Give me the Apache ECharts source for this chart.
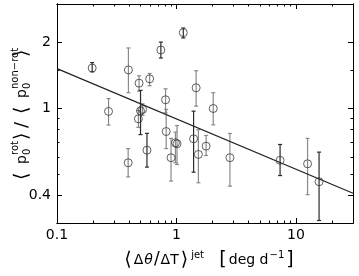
<!DOCTYPE html>
<html><head><meta charset="utf-8">
<script src="https://cdn.jsdelivr.net/npm/echarts@6/dist/echarts.min.js"></script>
<style>html,body{margin:0;padding:0;background:#fff}#c{width:359px;height:276px}</style>
</head><body><div id="c"></div>
<script>
// ---- tick values ----
const xMajorTicks = [0.1, 1, 10];
const xMinorTicks = [0.2,0.3,0.4,0.5,0.6,0.7,0.8,0.9,2,3,4,5,6,7,8,9,20,30];
const yMajorTicks = [0.4, 1, 2];
const yMinorTicks = [0.3,0.5,0.6,0.7,0.8,0.9,1.5,3];
const xTickLabels = [0.1, 1, 10];
const yTickLabels = [0.4, 1, 2];

// ---- data: points with dark error bars ----
const darkX  = [0.197, 0.74, 1.14, 0.50, 0.566, 1.39, 7.36, 15.6];
const darkY  = [1.53, 1.85, 2.22, 0.975, 0.645, 0.727, 0.58, 0.463];
const darkLo = [1.47, 1.70, 2.10, 0.76, 0.54, 0.512, 0.494, 0.308];
const darkHi = [1.62, 2.01, 2.33, 1.21, 0.77, 0.972, 0.685, 0.632];

// ---- data: points with grey error bars ----
const grayX  = [0.27, 0.396, 0.394, 0.486, 0.48, 0.52, 0.596, 0.81, 0.82, 0.90, 0.98, 1.01, 1.46, 1.525, 1.77, 2.03, 2.80, 12.5];
const grayY  = [0.97, 1.50, 0.565, 1.305, 0.897, 0.99, 1.366, 1.096, 0.785, 0.596, 0.697, 0.69, 1.243, 0.617, 0.673, 1.0, 0.596, 0.559];
const grayLo = [0.84, 1.18, 0.487, 1.20, 0.82, 0.93, 1.27, 0.956, 0.656, 0.466, 0.565, 0.555, 1.025, 0.458, 0.61, 0.842, 0.442, 0.404];
const grayHi = [1.11, 1.89, 0.656, 1.41, 0.98, 1.05, 1.445, 1.23, 0.99, 0.73, 0.78, 0.836, 1.487, 0.80, 0.753, 1.18, 0.769, 0.73];

// ---- fit line ----
const fitX = [0.1, 30];
const fitY = [1.52, 0.41];

const X_MIN = 0.1, X_MAX = 30, Y_MIN = 0.3, Y_MAX = 3;
const FONT = 'DejaVu Sans';

function axis(kind, position, ticks, len, labels) {
  return {
    type: 'log', logBase: 10, position: position,
    min: kind === 'x' ? X_MIN : Y_MIN, max: kind === 'x' ? X_MAX : Y_MAX,
    axisLine: {show: true, lineStyle: {color: '#000', width: 1}},
    axisTick: {show: true, inside: true, length: len, customValues: ticks, lineStyle: {color: '#000', width: 1}},
    axisLabel: labels ? {show: true, customValues: labels, color: '#000', fontSize: 14, fontFamily: FONT,
      margin: kind === 'x' ? 5 : 6, formatter: v => String(+v.toPrecision(3))} : {show: false},
    splitLine: {show: false}, minorTick: {show: false}, minorSplitLine: {show: false}
  };
}

function zip3(a, b, c, d) { return a.map((v, i) => [v, b[i], c[i], d[i]]); }

function errRender(color) {
  return function (params, api) {
    const x = api.value(0);
    const lo = api.coord([x, api.value(2)]);
    const hi = api.coord([x, api.value(3)]);
    const cw = 2;
    const st = {stroke: color, lineWidth: 1.2};
    return {type: 'group', children: [
      {type: 'line', shape: {x1: lo[0], y1: lo[1], x2: hi[0], y2: hi[1]}, style: st},
      {type: 'line', shape: {x1: lo[0]-cw, y1: lo[1], x2: lo[0]+cw, y2: lo[1]}, style: st},
      {type: 'line', shape: {x1: hi[0]-cw, y1: hi[1], x2: hi[0]+cw, y2: hi[1]}, style: st}
    ]};
  };
}

const T = (text, x, y, size, extra) => ({type: 'text', x: x, y: y,
  style: Object.assign({text: text, fontSize: size, fontFamily: FONT, fill: '#000', verticalAlign: 'middle'}, extra || {})});

const chart = echarts.init(document.getElementById('c'), null, {renderer: 'canvas'});
chart.setOption({
  animation: false,
  backgroundColor: '#fff',
  grid: {left: 57, top: 4, width: 296, height: 219, containLabel: false},
  xAxis: [
    axis('x', 'bottom', xMajorTicks, 5, xTickLabels),
    axis('x', 'top', xMajorTicks, 5, null),
    axis('x', 'top', xMinorTicks, 2.5, null),
    axis('x', 'bottom', xMinorTicks, 2.5, null)
  ],
  yAxis: [
    axis('y', 'left', yMajorTicks, 5, yTickLabels),
    axis('y', 'right', yMajorTicks, 5, null),
    axis('y', 'right', yMinorTicks, 2.5, null),
    axis('y', 'left', yMinorTicks, 2.5, null)
  ],
  series: [
    {type: 'custom', renderItem: errRender('#8a8a8a'), data: zip3(grayX, grayY, grayLo, grayHi),
      encode: {x: 0, y: [1, 2, 3]}, clip: true, z: 2},
    {type: 'custom', renderItem: errRender('#2a2a2a'), data: zip3(darkX, darkY, darkLo, darkHi),
      encode: {x: 0, y: [1, 2, 3]}, clip: true, z: 3},
    {type: 'line', data: fitX.map((v, i) => [v, fitY[i]]), symbol: 'none', silent: true,
      lineStyle: {color: '#222', width: 1.2}, z: 4},
    {type: 'scatter', data: grayX.map((v, i) => [v, grayY[i]]).concat(darkX.map((v, i) => [v, darkY[i]])),
      symbol: 'circle', symbolSize: 8, itemStyle: {color: 'none', borderColor: '#3a3a3a', borderWidth: 1}, z: 5}
  ],
  graphic: [
    {type: 'group', x: 22, y: 180, rotation: Math.PI / 2, children: [
      T('⟨', 0, 0, 19),
      T('p', 16, 0, 14),
      T('rot', 25, -7, 10),
      T('0', 25, 5, 10),
      T('⟩', 40, 0, 19),
      T('/', 52, 0, 18),
      T('⟨', 66, 0, 19),
      T('p', 82, 0, 14),
      T('non−rot', 91, -7, 10),
      T('0', 91, 5, 10),
      T('⟩', 123, 0, 19)
    ]},
    {type: 'text', x: 209, y: 260, style: {
      text: '{b|⟨}{m|Δ}{i|θ}{s|/}{m|ΔT}{b|⟩}{sup|jet}{m|   }{b|[}{m|deg d}{sup|−1}{b|]}',
      align: 'center', verticalAlign: 'middle', fontFamily: FONT, fill: '#000',
      rich: {
        m: {fontSize: 14, fontFamily: FONT, fill: '#000'},
        i: {fontSize: 14, fontFamily: FONT, fontStyle: 'italic', fill: '#000', padding: [0, 1, 0, 1]},
        s: {fontSize: 17, fontFamily: FONT, fill: '#000', padding: [0, 1, 0, 0]},
        b: {fontSize: 19, fontFamily: FONT, fill: '#000', padding: [0, 2, 0, 2]},
        sup: {fontSize: 10, fontFamily: FONT, fill: '#000', padding: [0, 0, 10, 1]}
      }
    }}
  ]
});
</script>
</body></html>
